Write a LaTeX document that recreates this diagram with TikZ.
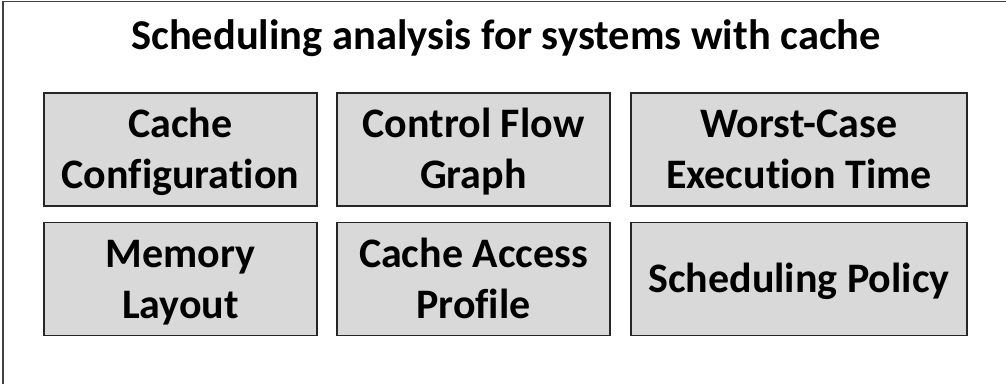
\documentclass[tikz,border=0pt]{standalone}
\usepackage{fontspec}
\setmainfont{Carlito}[Ligatures=NoCommon]
\definecolor{boxgray}{HTML}{D9D9D9}
\definecolor{framegray}{HTML}{404040}
\newcommand\firstln[1]{\smash{#1}\rule{0pt}{\fontcharht\font`H}}
\newcommand\lastln[1]{\smash{#1}}
\begin{document}
\begin{tikzpicture}[x=1pt,y=-1pt,
  box/.style={draw=black!85, line width=1.6pt, fill=boxgray, align=center, inner sep=0pt,
    minimum height=113pt, font=\bfseries\fontsize{42}{51}\selectfont},
  narrow/.style={minimum width=273pt},
  wide/.style={minimum width=336pt},
  titletext/.style={font=\bfseries\fontsize{42.5}{45}\selectfont, inner sep=0pt}]
\useasboundingbox (0,0) rectangle (1006,384);
\draw[framegray, line width=1.3pt] (3,384) -- (3,1.5) -- (1006,1.5);
\node[titletext, anchor=base] (title) at (506,49.5) {Scheduling analysis for systems with cache};
\node[box,narrow] (cc)  at (180.5,149.5) {\firstln{Cache}\\\lastln{Configuration}};
\node[box,narrow] (cfg) at (473.5,149.5) {\firstln{Control Flow}\\\lastln{Graph}};
\node[box,wide]   (wcet) at (799,149.5) {\firstln{Worst-Case}\\\lastln{Execution Time}};
\node[box,narrow] (ml)  at (180.5,279) {\firstln{Memory}\\\lastln{Layout}};
\node[box,narrow] (cap) at (473.5,279) {\firstln{Cache Access}\\\lastln{Profile}};
\node[box,wide]   (sp)  at (799,279) {\firstln{Scheduling Policy}};
\end{tikzpicture}
\end{document}
